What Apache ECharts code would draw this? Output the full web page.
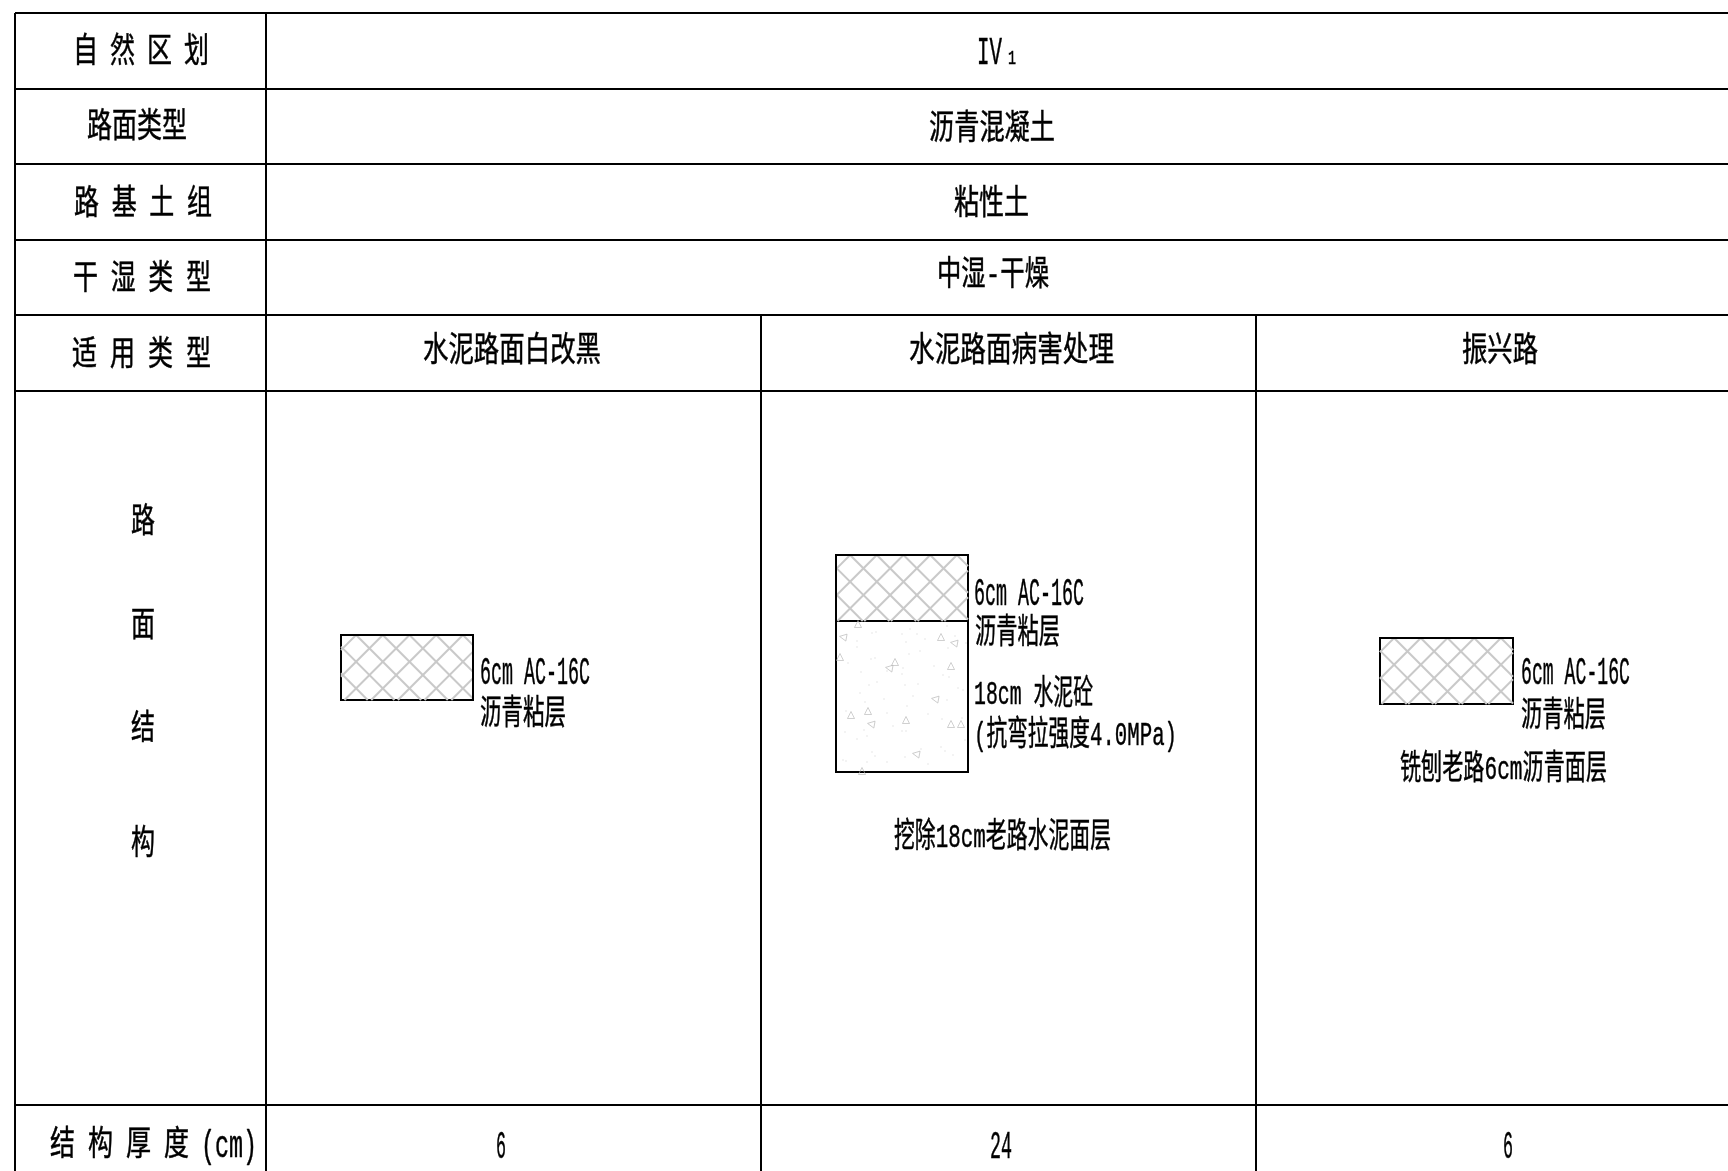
<!DOCTYPE html>
<html>
<head>
<meta charset="utf-8">
<style>
  html, body { margin: 0; padding: 0; background: #fff; }
  #chart { width: 1728px; height: 1171px; }
</style>
<script src="https://cdn.jsdelivr.net/npm/echarts@6/dist/echarts.min.js"></script>
</head>
<body>
<div id="chart"></div>
<script>
// table content
const rowLabels = ['自然区划', '路面类型', '路基土组', '干湿类型', '适用类型', '路面结构', '结构厚度', '(cm)'];
const regionValue = ['IV', '1'];
const pavementType = '沥青混凝土';
const soilGroup = '粘性土';
const moistureType = '中湿-干燥';
const sectionNames = ['水泥路面白改黑', '水泥路面病害处理', '振兴路'];
const thicknessValues = ['6', '24', '6'];
const surfaceNote = ['6cm AC-16C', '沥青粘层'];
const concreteNote = ['18cm 水泥砼', '(抗弯拉强度4.0MPa)'];
const removalNotes = ['挖除18cm老路水泥面层', '铣刨老路6cm沥青面层'];

const aggregateTriangles = [
  [858, 624, 0], [843, 637, 1], [941, 637, 0], [954, 643, 1], [840, 657, 0], [895, 662, 0], [889, 668, 1], [951, 666, 0], [935, 699, 1],
  [851, 715, 0], [868, 711, 0], [871, 724, 1], [906, 720, 0], [951, 724, 0], [961, 724, 0], [916, 754, 1], [862, 771, 0]
];
const aggregateDots = [
  [872, 633], [876, 632], [902, 634], [910, 629], [917, 634], [925, 639], [947, 626], [955, 636], [857, 641],
  [857, 647], [906, 642], [948, 648], [966, 643], [920, 651], [909, 654], [871, 659], [875, 658], [848, 663],
  [903, 668], [934, 666], [861, 672], [887, 671], [902, 674], [943, 675], [949, 677], [869, 685], [877, 682],
  [905, 685], [918, 684], [958, 688], [963, 690], [860, 693], [884, 699], [913, 696], [947, 700], [907, 706],
  [846, 711], [865, 702], [887, 713], [928, 714], [942, 719], [962, 718], [893, 726], [845, 732], [864, 730],
  [902, 731], [906, 731], [867, 736], [857, 739], [965, 740], [872, 752], [875, 756], [843, 760], [846, 761],
  [867, 762], [887, 762], [905, 757], [921, 749], [941, 747], [945, 751], [953, 755], [928, 764]
];

// drawing layout, in the 1728x1171 axis units
const W = 1728, H = 1171;
const rowY = [13, 89, 164, 240, 315, 391, 1105];
const colX = [15, 266, 761, 1256];
const BODY_FONT = '"Liberation Mono", "Noto Sans CJK SC"';
const TEXT_SIZE = 34;
const LATIN_SIZE = 38;

const gridLines = [
  ...rowY.map(y => [colX[0], y, W, y]),
  [colX[0], rowY[0], colX[0], H],
  [colX[1], rowY[0], colX[1], H],
  [colX[2], rowY[4], colX[2], H],
  [colX[3], rowY[4], colX[3], H]
];

// x0, y0, x1, y1, hatched, edges kept solid above the hatch
const layers = [
  [341, 635, 473, 700, true, ['top', 'right']],
  [836, 555, 968, 621, true, ['top', 'left']],
  [836, 621, 968, 772, false, []],
  [1380, 638, 1513, 704, true, ['top']]
];
const HATCH_STEP = 26.7;

function hatchSegments(x0, y0, x1, y1) {
  const out = [];
  const w = x1 - x0, h = y1 - y0;
  for (let d = -h - HATCH_STEP; d < w + h + HATCH_STEP; d += HATCH_STEP) {
    // falling line x - y = d
    const a = [Math.max(0, d), Math.max(0, -d)];
    const runA = Math.min(w - a[0], h - a[1]);
    if (runA > 0) out.push([x0 + a[0], y0 + a[1], x0 + a[0] + runA, y0 + a[1] + runA]);
    // rising line x + y = d
    if (d > 0) {
      const s = [Math.min(d, w), d - Math.min(d, w)];
      const runB = Math.min(s[0], h - s[1]);
      if (runB > 0) out.push([x0 + s[0], y0 + s[1], x0 + s[0] - runB, y0 + s[1] + runB]);
    }
  }
  return out;
}

const hatchLines = layers.filter(l => l[4]).flatMap(l => hatchSegments(l[0], l[1], l[2], l[3]));
const solidEdges = layers.flatMap(l => l[5].map(side => ({
  top: [l[0], l[1], l[2], l[1]],
  right: [l[2], l[1], l[2], l[3]],
  left: [l[0], l[1], l[0], l[3]]
}[side])));

const measureCtx = document.createElement('canvas').getContext('2d');
function textWidth(text, size) {
  measureCtx.font = size + 'px ' + BODY_FONT;
  return measureCtx.measureText(text).width;
}

// one text box: squeezed horizontally to fit x0..x1 like the drawing's narrow CAD font
const textItems = [];
function place(text, x0, x1, y, size) {
  const s = size || TEXT_SIZE;
  // mono metrics sit the glyphs high with verticalAlign middle
  textItems.push({ text, x0, y: y + s * 0.095, size: s, scaleX: (x1 - x0) / textWidth(text, s) });
}
// spaced label: characters evenly across x0..x1
function spread(text, x0, x1, y, charW) {
  const chars = Array.from(text);
  const pitch = (x1 - x0 - charW) / (chars.length - 1);
  chars.forEach((c, i) => place(c, x0 + i * pitch, x0 + i * pitch + charW, y));
}

spread(rowLabels[0], 73, 209, 50, 25);
place(rowLabels[1], 87, 187, 125);
spread(rowLabels[2], 74, 212, 202, 25);
spread(rowLabels[3], 73, 211, 277, 25);
spread(rowLabels[4], 72, 211, 353, 25);
Array.from(rowLabels[5]).forEach((c, i) => place(c, 131, 155, [520, 624, 727, 842][i]));
spread(rowLabels[6], 50, 189, 1143, 25);
place(rowLabels[7], 201, 257, 1143, LATIN_SIZE);

place(regionValue[0], 977, 1002, 50, LATIN_SIZE);
place(regionValue[1], 1008, 1016, 57, 20);
place(pavementType, 929, 1055, 127);
place(soilGroup, 954, 1029, 202);
place(moistureType, 937, 1049, 273);

place(sectionNames[0], 423, 601, 349);
place(sectionNames[1], 909, 1114, 349);
place(sectionNames[2], 1462, 1538, 349);

place(surfaceNote[0], 480, 590, 670, LATIN_SIZE);
place(surfaceNote[1], 480, 566, 712);
place(surfaceNote[0], 974, 1084, 591, LATIN_SIZE);
place(surfaceNote[1], 975, 1060, 631);
place(concreteNote[0], 974, 1093, 692);
place(concreteNote[1], 974, 1177, 733);
place(removalNotes[0], 894, 1111, 835);
place(surfaceNote[0], 1521, 1630, 670, LATIN_SIZE);
place(surfaceNote[1], 1521, 1606, 714);
place(removalNotes[1], 1400, 1607, 767);

place(thicknessValues[0], 496, 506, 1144, LATIN_SIZE);
place(thicknessValues[1], 990, 1012, 1144, LATIN_SIZE);
place(thicknessValues[2], 1503, 1513, 1144, LATIN_SIZE);

function segmentSeries(name, segments, stroke, lineWidth, z) {
  return {
    name,
    type: 'custom',
    coordinateSystem: 'cartesian2d',
    silent: true,
    z,
    data: segments,
    encode: { x: [0, 2], y: [1, 3] },
    renderItem: (params, api) => {
      const a = api.coord([api.value(0), api.value(1)]);
      const b = api.coord([api.value(2), api.value(3)]);
      return {
        type: 'line',
        shape: { x1: a[0], y1: a[1], x2: b[0], y2: b[1] },
        style: { stroke, lineWidth }
      };
    }
  };
}

const layerBoxes = layers.map(l => l.slice(0, 4));

const option = {
  backgroundColor: '#ffffff',
  animation: false,
  grid: { left: 0, right: 0, top: 0, bottom: 0 },
  xAxis: { type: 'value', min: 0, max: W, show: false },
  yAxis: { type: 'value', min: 0, max: H, inverse: true, show: false },
  series: [
    segmentSeries('grid', gridLines, '#000000', 2, 2),
    {
      name: 'layers',
      type: 'custom',
      silent: true,
      z: 3,
      data: layerBoxes,
      encode: { x: [0, 2], y: [1, 3] },
      renderItem: (params, api) => {
        const a = api.coord([api.value(0), api.value(1)]);
        const b = api.coord([api.value(2), api.value(3)]);
        return {
          type: 'rect',
          shape: { x: a[0], y: a[1], width: b[0] - a[0], height: b[1] - a[1] },
          style: { fill: 'none', stroke: '#000000', lineWidth: 2 }
        };
      }
    },
    segmentSeries('hatch', hatchLines, '#c9c9c9', 2, 4),
    segmentSeries('solid edges', solidEdges, '#000000', 2, 5),
    {
      name: 'aggregate',
      type: 'scatter',
      silent: true,
      z: 4,
      symbol: 'triangle',
      symbolSize: 7,
      symbolRotate: value => (value[2] ? 80 : 0),
      itemStyle: { color: 'transparent', borderColor: '#b5b5b5', borderWidth: 0.8 },
      data: aggregateTriangles
    },
    {
      name: 'fines',
      type: 'scatter',
      silent: true,
      z: 4,
      symbol: 'rect',
      symbolSize: 1,
      itemStyle: { color: '#c4c4c4' },
      data: aggregateDots
    },
    {
      name: 'text',
      type: 'custom',
      silent: true,
      z: 6,
      data: textItems.map(t => [t.x0, t.y]),
      renderItem: (params, api) => {
        const t = textItems[params.dataIndex];
        const p = api.coord([api.value(0), api.value(1)]);
        return {
          type: 'text',
          x: p[0],
          y: p[1],
          scaleX: t.scaleX,
          style: {
            text: t.text,
            fontFamily: BODY_FONT,
            fontSize: t.size,
            fill: '#000000',
            stroke: '#000000',
            lineWidth: 0.5,
            align: 'left',
            verticalAlign: 'middle'
          }
        };
      }
    }
  ]
};

const chart = echarts.init(document.getElementById('chart'), null, { renderer: 'canvas' });
chart.setOption(option);
</script>
</body>
</html>
